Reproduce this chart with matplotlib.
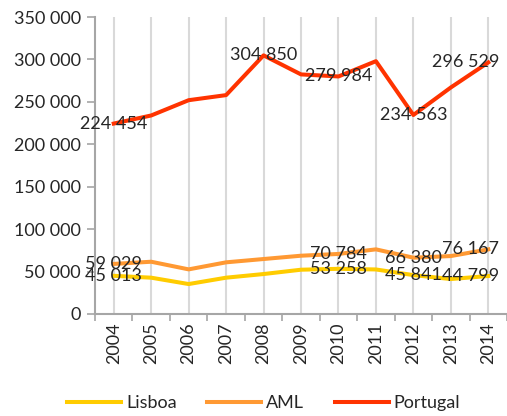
import matplotlib.pyplot as plt
from matplotlib.ticker import FuncFormatter, MultipleLocator
import numpy as np

plt.rcParams['font.family'] = ['Lato', 'DejaVu Sans']

anos = ['2004', '2005', '2006', '2007', '2008', '2009', '2010', '2011', '2012', '2013', '2014']
lisboa = [45013, 42800, 35300, 42800, 47100, 52200, 53258, 52500, 45841, 41200, 44799]
aml = [59029, 61600, 52600, 60900, 64800, 68700, 70784, 76200, 66380, 68300, 76167]
portugal = [224454, 234000, 252000, 258000, 304850, 282400, 279984, 298000, 234563, 267000, 296529]

# anos com etiqueta de valor
idx_etiquetas = [0, 4, 6, 8, 10]
idx_etiquetas_peq = [0, 6, 8, 10]

cor_texto = '#262626'
fmt = lambda v, p=None: f'{int(v):,}'.replace(',', ' ')

fig = plt.figure(figsize=(5.07, 4.16), dpi=100)
ax = fig.add_axes([0.1874, 0.2452, 0.8126, 0.7138])

x = np.arange(len(anos))
series = [('Lisboa', lisboa, '#FFCC00'), ('AML', aml, '#FF9933'), ('Portugal', portugal, '#FF3300')]
for nome, vals, cor in series:
    ax.plot(x, vals, color=cor, lw=2.9, label=nome, solid_joinstyle='round', zorder=3)

def etiqueta(i, v):
    if i == len(anos) - 1:
        ax.annotate(fmt(v), (i, v), xytext=(8, 0), textcoords='offset points',
                    ha='right', va='center', fontsize=13, color=cor_texto, zorder=4)
    else:
        ax.annotate(fmt(v), (i, v), ha='center', va='center', fontsize=13,
                    color=cor_texto, zorder=4)

for i in idx_etiquetas:
    etiqueta(i, portugal[i])
for i in idx_etiquetas_peq:
    etiqueta(i, aml[i])
    etiqueta(i, lisboa[i])

ax.set_xlim(-0.5, len(anos) - 0.5)
ax.set_ylim(0, 350000)
ax.yaxis.set_major_locator(MultipleLocator(50000))
ax.yaxis.set_major_formatter(FuncFormatter(fmt))

ax.set_xticks(x)
ax.set_xticklabels(anos, rotation=90)
ax.set_xticks(np.arange(len(anos) + 1) - 0.5, minor=True)
ax.tick_params(axis='x', which='major', length=0, pad=6, labelsize=13, labelcolor=cor_texto)
ax.tick_params(axis='x', which='minor', length=5, width=1.2, color='#A6A6A6')
ax.tick_params(axis='y', length=6, width=1.2, color='#A6A6A6', labelsize=13,
               labelcolor=cor_texto, pad=4)

ax.grid(axis='x', which='major', color='#D9D9D9', lw=1.5, zorder=0)
for s in ['top', 'right']:
    ax.spines[s].set_visible(False)
for s in ['left', 'bottom']:
    ax.spines[s].set_color('#A6A6A6')
    ax.spines[s].set_linewidth(1.5)

fig.legend(loc='center', bbox_to_anchor=(0.52, 0.031), ncol=3, frameon=False,
           fontsize=13, handlelength=3.0, handletextpad=0.25, columnspacing=1.7,
           labelcolor=cor_texto)

fig.savefig('out.png', dpi=100)
